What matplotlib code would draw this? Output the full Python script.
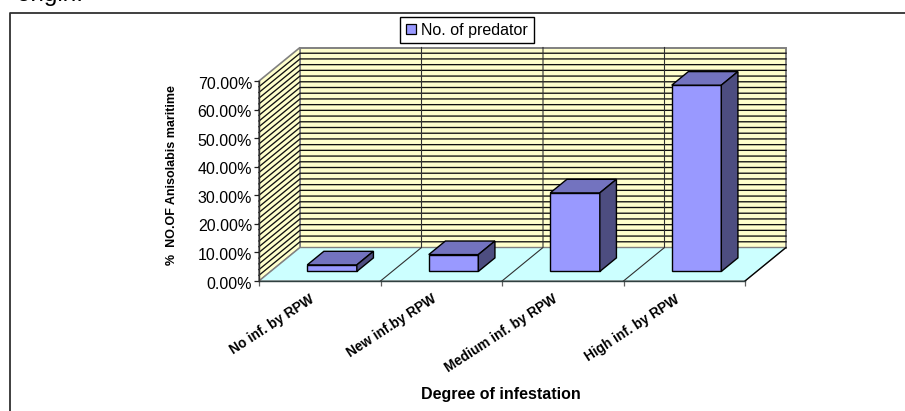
import matplotlib
matplotlib.use("Agg")
import matplotlib.pyplot as plt
from matplotlib.patches import Polygon, Patch
from matplotlib.transforms import ScaledTranslation

plt.rcParams['font.family'] = ['Liberation Sans', 'DejaVu Sans']

categories = ["No inf. by RPW", "New inf.by RPW", "Medium inf. by RPW", "High inf. by RPW"]
values = [2.3, 5.9, 27.5, 65.2]
y_ticks = [0, 10, 20, 30, 40, 50, 60, 70]
y_tick_labels = ["0.00%", "10.00%", "20.00%", "30.00%", "40.00%", "50.00%", "60.00%", "70.00%"]
series_name = "No. of predator"
x_title = "Degree of infestation"
y_title = "%  NO.OF Anisolabis maritime"
clipped_note = "origin."

W, H = 905, 411
fig = plt.figure(figsize=(W / 100, H / 100), dpi=100)
fig.patch.set_facecolor("white")

# page frame around the chart
frame = fig.add_axes([0, 0, 1, 1], zorder=0)
frame.set_xlim(0, W); frame.set_ylim(H, 0); frame.axis("off")
frame.plot([9.5, 9.5, W], [H, 13, 13], color="#303030", lw=1.3, solid_capstyle="butt")
frame.text(17, 1.5, clipped_note, fontsize=17.5, color="black", ha="left", va="baseline", clip_on=False)

# main axes: x = category units, y = percent
L, R, B, T = 259.0, 745.0, 281.0, 81.0
ax = fig.add_axes([L / W, 1 - B / H, (R - L) / W, (B - T) / H], zorder=1)
ax.set_xlim(0, len(categories)); ax.set_ylim(0, 70)
ax.patch.set_visible(False)
for s in ax.spines.values():
    s.set_visible(False)

n = len(categories)
DX = 41.0 / ((R - L) / n)      # full depth, in category units
DY = 33.5 / ((B - T) / 70.0)   # full depth, in percent units

def pt(x, y, d=0.0):
    return (x + d * DX, y + d * DY)

top = y_ticks[-1]
wall_c, floor_c = "#FFFFCC", "#CCFFFF"
edge_c = "#808080"
kw = dict(clip_on=False)
ax.add_patch(Polygon([pt(0, 0, 1), pt(n, 0, 1), pt(n, top, 1), pt(0, top, 1)], fc=wall_c, ec=edge_c, lw=1.4, zorder=1, **kw))
ax.add_patch(Polygon([pt(0, 0, 0), pt(0, 0, 1), pt(0, top, 1), pt(0, top, 0)], fc=wall_c, ec=edge_c, lw=1.2, zorder=1, **kw))
ax.add_patch(Polygon([pt(0, 0, 0), pt(n, 0, 0), pt(n, 0, 1), pt(0, 0, 1)], fc=floor_c, ec=edge_c, lw=1.0, zorder=1, **kw))

# 2 % gridlines on the walls
for g in range(2, top, 2):
    a, b, c = pt(0, g, 0), pt(0, g, 1), pt(n, g, 1)
    ax.plot([a[0], b[0], c[0]], [a[1], b[1], c[1]], color="#101010", lw=0.95, zorder=2, **kw)

# category dividers on wall and floor
for i in range(1, n):
    p0, p1, p2 = pt(i, 0, 0), pt(i, 0, 1), pt(i, top, 1)
    ax.plot([p0[0], p1[0], p2[0]], [p0[1], p1[1], p2[1]], color="#303030", lw=0.8, zorder=2.5, **kw)
p0, p1 = pt(n, 0, 0), pt(n, 0, 1)
ax.plot([p0[0], p1[0]], [p0[1], p1[1]], color="black", lw=0.9, zorder=2.5, **kw)
ax.plot([0, n], [0, 0], color="#304040", lw=1.0, zorder=2.5, **kw)
ax.plot([0, 0], [0, top], color="#303030", lw=1.0, zorder=2.5, **kw)

# 3-D bars
half = 0.204
shift = 0.005
d0, d1 = 0.285, 0.69
for i, v in enumerate(values):
    xl, xr = i + 0.5 - half + shift, i + 0.5 + half + shift
    ax.add_patch(Polygon([pt(xl, 0, d0), pt(xr, 0, d0), pt(xr, v, d0), pt(xl, v, d0)], fc="#9999FF", ec="black", lw=1.0, zorder=5, joinstyle="miter", **kw))
    ax.add_patch(Polygon([pt(xl, v, d0), pt(xr, v, d0), pt(xr, v, d1), pt(xl, v, d1)], fc="#7373BF", ec="black", lw=1.0, zorder=5, joinstyle="miter", **kw))
    ax.add_patch(Polygon([pt(xr, 0, d0), pt(xr, 0, d1), pt(xr, v, d1), pt(xr, v, d0)], fc="#4D4D80", ec="black", lw=1.0, zorder=5, joinstyle="miter", **kw))

# axes ticks and labels
ax.set_yticks(y_ticks)
ax.set_yticklabels(y_tick_labels, fontsize=11.5, color="black")
ax.tick_params(axis="y", length=3.5, width=0.9, pad=1.5, color="#202020")
for lab in ax.get_yticklabels():
    lab.set_transform(lab.get_transform() + ScaledTranslation(0, -1.5 / 100, fig.dpi_scale_trans))
ax.set_xticks(range(n + 1))
ax.set_xticklabels([])
ax.tick_params(axis="x", length=3.5, width=0.9, color="#606060")

for i, c in enumerate(categories):
    x_disp = L + (i + 0.5) * (R - L) / n - 6.5
    frame.text(x_disp, 298, c, fontsize=9.8, fontweight="bold", rotation=33, rotation_mode="anchor", ha="right", va="center", color="black")

frame.text(501, 394, x_title, fontsize=11.5, fontweight="bold", ha="center", va="center")
frame.text(171.5, 175, y_title, fontsize=9, fontweight="bold", rotation=90, ha="center", va="center")

# legend
handle = Patch(fc="#9999FF", ec="black", lw=0.9, label=series_name)
leg = fig.legend(handles=[handle], loc="center", bbox_to_anchor=(467 / W, 1 - 30 / H),
                 fontsize=11.5, frameon=True, fancybox=False, edgecolor="black", framealpha=1,
                 handlelength=0.62, handleheight=0.62, handletextpad=0.33, borderpad=0.36, borderaxespad=0)
leg.get_frame().set_linewidth(1.0)
leg.set_zorder(10)

fig.savefig("out.png", dpi=100)
